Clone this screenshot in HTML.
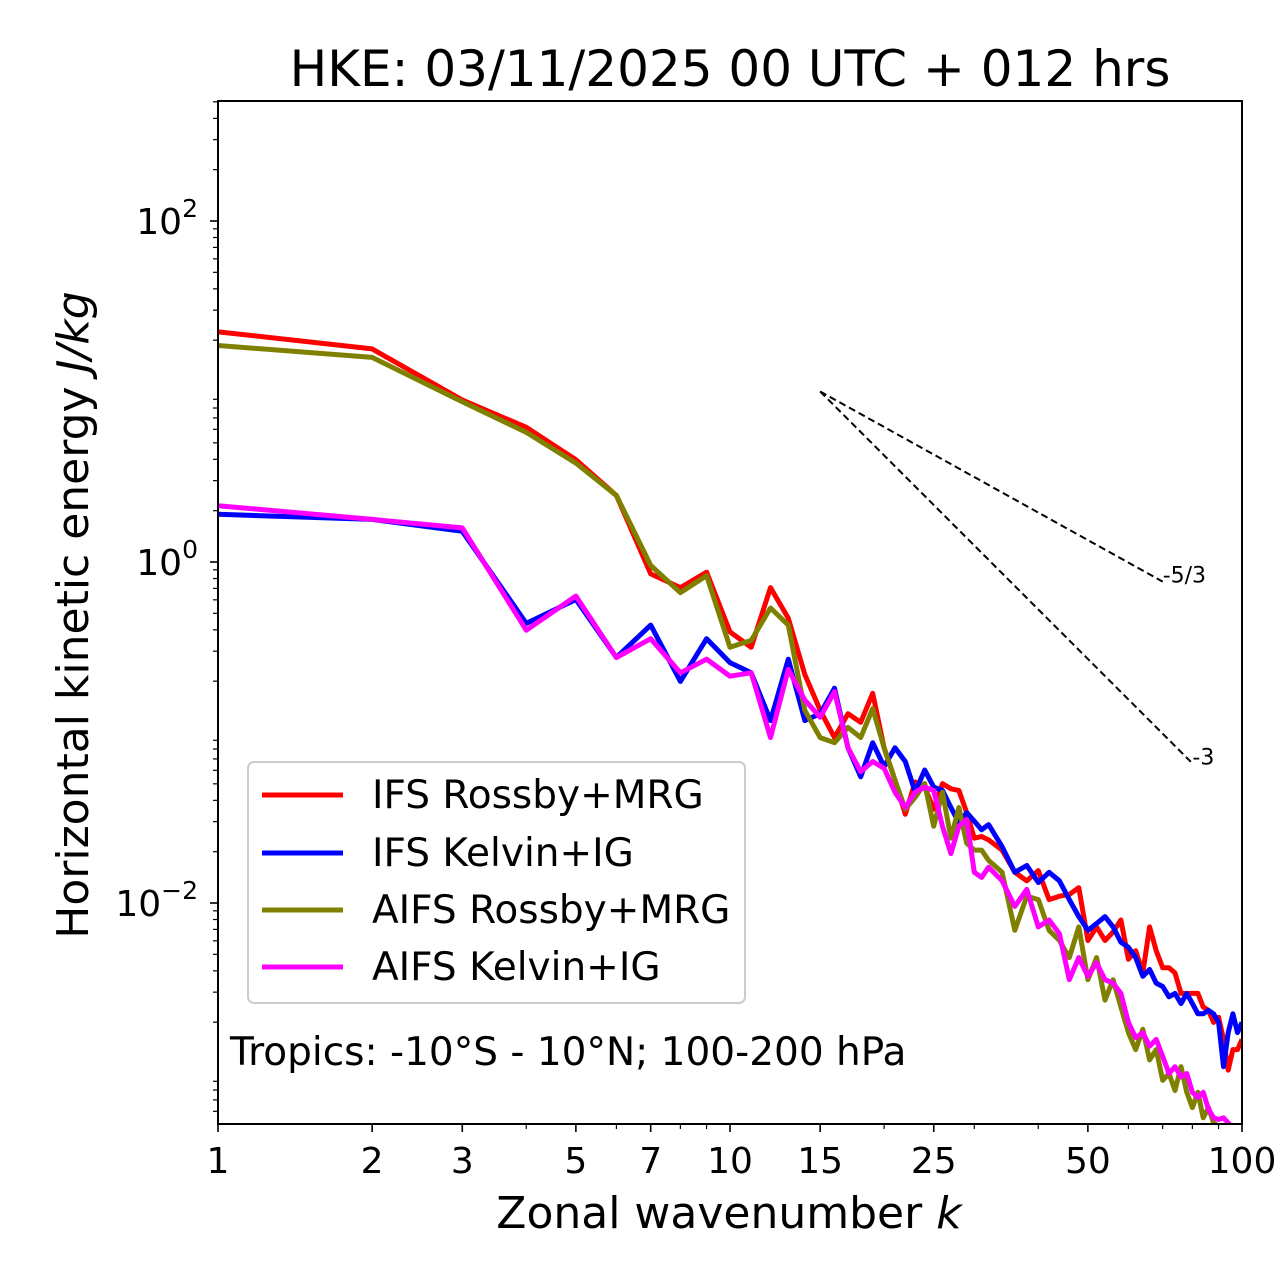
<!DOCTYPE html>
<html><head><meta charset="utf-8"><style>
html,body{margin:0;padding:0;background:#fff;}
svg{display:block;font-family:"DejaVu Sans","Liberation Sans",sans-serif;}
</style></head><body>
<svg id="chart" width="1280" height="1288" viewBox="0 0 1280 1288" xmlns="http://www.w3.org/2000/svg">
<rect width="1280" height="1288" fill="#fff"/>
<text x="730" y="86" font-size="50" text-anchor="middle">HKE: 03/11/2025 00 UTC + 012 hrs</text>
<defs><clipPath id="plotclip"><rect x="218" y="101" width="1024" height="1023"/></clipPath></defs>
<g id="ticks"></g>
<g id="series" clip-path="url(#plotclip)"></g>
<rect x="218" y="101" width="1024" height="1023" fill="none" stroke="#000" stroke-width="2"/>
<text x="729" y="1228" font-size="44" text-anchor="middle">Zonal wavenumber <tspan font-style="italic">k</tspan></text>
<text transform="translate(88,615) rotate(-90)" font-size="44" text-anchor="middle">Horizontal kinetic energy <tspan font-style="italic">J/kg</tspan></text>
<g>
<rect x="248" y="762" width="497" height="241" rx="6" fill="#fff" fill-opacity="0.8" stroke="#ccc" stroke-width="2"/>
<g><line x1="262" y1="795" x2="343" y2="795" stroke="#ff0000" stroke-width="5"/><text x="372" y="808" font-size="39">IFS Rossby+MRG</text></g>
<g><line x1="262" y1="853" x2="343" y2="853" stroke="#0000ff" stroke-width="5"/><text x="372" y="866" font-size="39">IFS Kelvin+IG</text></g>
<g><line x1="262" y1="910" x2="343" y2="910" stroke="#808000" stroke-width="5"/><text x="372" y="923" font-size="39">AIFS Rossby+MRG</text></g>
<g><line x1="262" y1="967" x2="343" y2="967" stroke="#ff00ff" stroke-width="5"/><text x="372" y="980" font-size="39">AIFS Kelvin+IG</text></g>
</g>
<text x="230" y="1065" font-size="39">Tropics: -10°S - 10°N; 100-200 hPa</text>
</svg>
<script>
const kLow = [1,2,3,4,5,6,7,8,9,10,11,12,13,14,15,16,17,18,19,20,21,22,23,24,25,26,27,28,29,30,31];
const kHigh = [32,34,36,38,40,42,44,46,48,50,52,54,56,58,60,62,64,66,68,70,72,74,76,78,80,82,84,86,88,90,92,94,96,98,100];
// log10 of energy (J/kg)
const ifsRossbyLog = [1.35,1.25,0.95,0.79,0.60,0.39,-0.07,-0.15,-0.06,-0.41,-0.50,-0.15,-0.33,-0.66,-0.87,-1.03,-0.89,-0.94,-0.77,-1.09,-1.28,-1.48,-1.29,-1.32,-1.45,-1.30,-1.33,-1.34,-1.47,-1.62,-1.61,
 -1.63,-1.69,-1.82,-1.87,-1.81,-1.98,-1.96,-1.95,-1.91,-2.22,-2.14,-2.22,-2.17,-2.10,-2.33,-2.28,-2.41,-2.14,-2.28,-2.38,-2.38,-2.41,-2.53,-2.53,-2.53,-2.53,-2.61,-2.63,-2.70,-2.67,-2.80,-2.98,-2.86,-2.86,-2.80];
const ifsKelvinLog = [0.28,0.25,0.18,-0.36,-0.22,-0.56,-0.37,-0.70,-0.45,-0.59,-0.65,-0.93,-0.57,-0.93,-0.89,-0.74,-1.09,-1.26,-1.06,-1.20,-1.09,-1.17,-1.35,-1.22,-1.32,-1.34,-1.44,-1.53,-1.47,-1.52,-1.57,
 -1.54,-1.67,-1.82,-1.78,-1.88,-1.82,-1.87,-1.98,-2.08,-2.16,-2.12,-2.08,-2.14,-2.23,-2.26,-2.32,-2.43,-2.39,-2.47,-2.49,-2.55,-2.53,-2.59,-2.53,-2.59,-2.65,-2.65,-2.63,-2.65,-2.70,-2.96,-2.76,-2.65,-2.76,-2.70];
const aifsRossbyLog = [1.27,1.20,0.94,0.76,0.58,0.39,-0.02,-0.18,-0.08,-0.50,-0.46,-0.27,-0.37,-0.87,-1.03,-1.06,-0.97,-1.03,-0.86,-1.09,-1.28,-1.45,-1.38,-1.30,-1.55,-1.35,-1.62,-1.44,-1.65,-1.69,-1.69,
 -1.75,-1.82,-2.16,-1.96,-1.98,-2.16,-2.22,-2.32,-2.14,-2.45,-2.32,-2.57,-2.45,-2.61,-2.76,-2.86,-2.74,-2.92,-2.86,-3.04,-3.00,-3.10,-2.96,-3.11,-3.20,-3.11,-3.26,-3.20,-3.29,-3.31,-3.40,-3.45,-3.45,-3.50,-3.50];
const aifsKelvinLog = [0.33,0.25,0.20,-0.40,-0.20,-0.56,-0.45,-0.65,-0.57,-0.67,-0.65,-1.03,-0.63,-0.81,-0.91,-0.76,-1.09,-1.23,-1.17,-1.21,-1.35,-1.44,-1.35,-1.32,-1.34,-1.55,-1.71,-1.55,-1.51,-1.82,-1.85,
 -1.79,-1.87,-2.02,-1.92,-2.14,-2.10,-2.18,-2.45,-2.32,-2.43,-2.35,-2.45,-2.47,-2.53,-2.70,-2.79,-2.76,-2.84,-2.80,-2.90,-3.00,-2.96,-3.02,-3.00,-3.11,-3.14,-3.11,-3.21,-3.26,-3.27,-3.26,-3.29,-3.32,-3.35,-3.40];
const xTickLabels = ["1","2","3","5","7","10","15","25","50","100"];
const xMinorTicks = [4,6,8,9,20,30,40,60,70,80,90];
const yMajorExp = [-2,0,2];
const slopeRefs = [-5/3, -3];
const slopeLabels = ["-5/3","-3"];
const slopeStartK = 15, slopeStartE = 10;
const slopeEndK = [70, 80];

const X0=218, X1=1242, Y2=221, PXD=170.5;
const xs = k => X0 + (X1-X0)/2*Math.log10(k);
const ysLog = L => Y2 + (2-L)*PXD;
const NS="http://www.w3.org/2000/svg";
function mk(tag, attrs, parent){const e=document.createElementNS(NS,tag);for(const a in attrs)e.setAttribute(a,attrs[a]);parent.appendChild(e);return e;}
const ticks=document.getElementById('ticks'), series=document.getElementById('series');

xTickLabels.forEach(l=>{
  const x=xs(+l);
  const t=mk('line',{x1:x,y1:1124,x2:x,y2:1132,stroke:'#000','stroke-width':1.6},ticks);
  
  
  const tx=mk('text',{x:x,y:1173,'font-size':36,'text-anchor':'middle'},ticks);
  tx.textContent=l;
  
  
});
xMinorTicks.forEach(k=>{
  const x=xs(k);
  const t=mk('line',{x1:x,y1:1124,x2:x,y2:1129,stroke:'#000','stroke-width':1.2},ticks);
  
  
});
for(let d=-4; d<=2; d++){
  for(let m=2;m<=9;m++){
    const y=ysLog(d+Math.log10(m));
    if(y<101||y>1124) continue;
    const t=mk('line',{x1:213,y1:y,x2:218,y2:y,stroke:'#000','stroke-width':1.2},ticks);
    
    
  }
}
yMajorExp.forEach(e=>{
  const y=ysLog(e);
  const t=mk('line',{x1:210,y1:y,x2:218,y2:y,stroke:'#000','stroke-width':1.6},ticks);
  
  
  const tx=mk('text',{x:198,y:y+13,'font-size':36,'text-anchor':'end'},ticks);
  
  
  tx.appendChild(document.createTextNode('10'));
  const sup=mk('tspan',{'font-size':25,dy:-17},tx);
  sup.textContent=String(e).replace('-','\u2212');
});

const kAll = kLow.concat(kHigh);
const seriesDefs=[
  ['ifs-rossby-line',ifsRossbyLog,'#ff0000'],
  ['ifs-kelvin-line',ifsKelvinLog,'#0000ff'],
  ['aifs-rossby-line',aifsRossbyLog,'#808000'],
  ['aifs-kelvin-line',aifsKelvinLog,'#ff00ff']
];
seriesDefs.forEach(([name,vals,col])=>{
  const pts=vals.map((v,i)=>xs(kAll[i]).toFixed(1)+','+ysLog(v).toFixed(1)).join(' ');
  const p=mk('polyline',{points:pts,fill:'none',stroke:col,'stroke-width':5,'stroke-linejoin':'round'},series);
  
  
});
slopeRefs.forEach((s,i)=>{
  const L0=Math.log10(slopeStartE);
  const L1=L0+s*(Math.log10(slopeEndK[i])-Math.log10(slopeStartK));
  const l=mk('line',{x1:xs(slopeStartK),y1:ysLog(L0),x2:xs(slopeEndK[i]),y2:ysLog(L1),stroke:'#000','stroke-width':2,'stroke-dasharray':'7,4'},series);
  
  
  const t=mk('text',{x:xs(slopeEndK[i]),y:ysLog(L1)+1,'font-size':22},document.getElementById('chart'));
  t.textContent=slopeLabels[i];
  
  
});
</script>
</body></html>
